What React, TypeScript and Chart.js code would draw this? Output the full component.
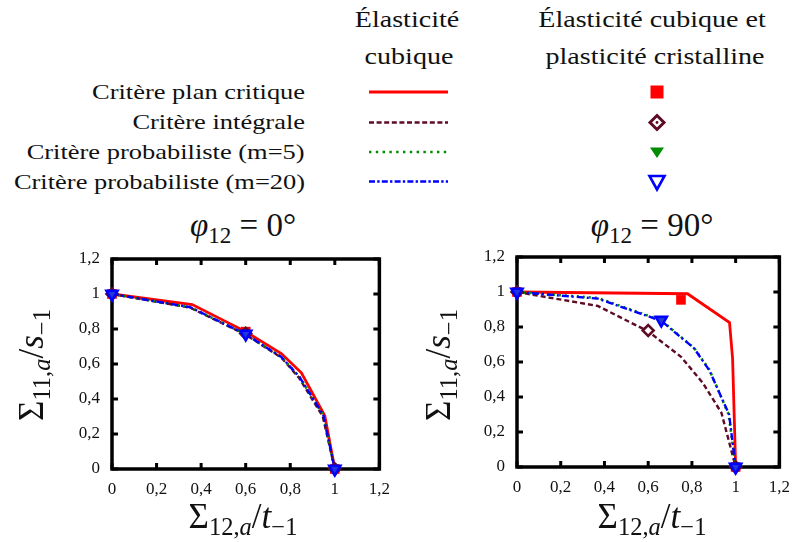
import React, { useEffect, useRef } from "react";
import { Chart, registerables } from "chart.js";

Chart.register(...registerables);

// ---------- data ----------
const axisTicks = [0, 0.2, 0.4, 0.6, 0.8, 1, 1.2];
const axisTickLabels = ["0", "0,2", "0,4", "0,6", "0,8", "1", "1,2"];

const seriesNames = [
  "Critère plan critique",
  "Critère intégrale",
  "Critère probabiliste (m=5)",
  "Critère probabiliste (m=20)",
];

// φ12 = 0° — cubic elasticity (lines)
const p0PlanX = [0, 0.36, 0.6, 0.76, 0.85, 0.955, 1];
const p0PlanY = [1, 0.94, 0.785, 0.66, 0.55, 0.305, 0];
const p0IntegX = [0, 0.35, 0.6, 0.76, 0.84, 0.946, 1];
const p0IntegY = [1, 0.922, 0.768, 0.636, 0.52, 0.3, 0];
const p0M5X = [0, 0.35, 0.6, 0.76, 0.842, 0.948, 1];
const p0M5Y = [1, 0.925, 0.77, 0.64, 0.525, 0.31, 0];
const p0M20X = [0, 0.35, 0.6, 0.76, 0.842, 0.948, 1];
const p0M20Y = [1, 0.925, 0.77, 0.64, 0.525, 0.31, 0];
// φ12 = 0° — cubic elasticity + crystal plasticity (markers)
const p0PlanMX = [0, 0.6, 1];
const p0PlanMY = [1, 0.785, 0];
const p0IntegMX = [0, 0.6, 1];
const p0IntegMY = [1, 0.775, 0];
const p0M5MX = [0, 0.6, 1];
const p0M5MY = [1, 0.772, 0];
const p0M20MX = [0, 0.6, 1];
const p0M20MY = [1, 0.772, 0];

// φ12 = 90° — cubic elasticity (lines)
const p90PlanX = [0, 0.78, 0.972, 0.986, 1];
const p90PlanY = [1, 0.99, 0.825, 0.62, 0];
const p90IntegX = [0, 0.37, 0.6, 0.75, 0.85, 0.935, 0.975, 1];
const p90IntegY = [1, 0.92, 0.775, 0.63, 0.48, 0.31, 0.12, 0];
const p90M5X = [0, 0.37, 0.66, 0.81, 0.88, 0.968, 1];
const p90M5Y = [1, 0.966, 0.838, 0.68, 0.556, 0.3, 0];
const p90M20X = [0, 0.37, 0.66, 0.81, 0.88, 0.97, 1];
const p90M20Y = [1, 0.962, 0.835, 0.678, 0.552, 0.3, 0];
// φ12 = 90° — markers
const p90PlanMX = [0, 0.75, 1];
const p90PlanMY = [1, 0.955, 0];
const p90IntegMX = [0, 0.6, 1];
const p90IntegMY = [1, 0.78, 0];
const p90M5MX = [0, 0.66, 1];
const p90M5MY = [1, 0.84, 0];
const p90M20MX = [0, 0.66, 1];
const p90M20MY = [1, 0.84, 0];

// ---------- styles ----------
const RED = "#ff0000";
const MAROON = "#5e0b24";
const GREEN = "#008c00";
const BLUE = "#0000ff";
const SERIF = "'Liberation Serif', 'Times New Roman', serif";

const pts = (xs: number[], ys: number[]) => xs.map((x, i) => ({ x, y: ys[i] }));

function buildDatasets(
  lines: [number[], number[]][],
  marks: [number[], number[]][]
) {
  const [plan, integ, m5, m20] = lines;
  const [planM, integM, m5M, m20M] = marks;
  const common = { showLine: false, clip: false as any };
  return [
    // markers (first datasets are drawn on top)
    {
      label: seriesNames[3] + " (cp)",
      data: pts(m20M[0], m20M[1]),
      ...common,
      pointStyle: "triangle",
      rotation: 180,
      pointRadius: 6.5,
      pointBackgroundColor: "rgba(40,40,255,0.85)",
      pointBorderColor: BLUE,
      pointBorderWidth: 2.5,
    },
    {
      label: seriesNames[2] + " (cp)",
      data: pts(m5M[0], m5M[1]),
      ...common,
      pointStyle: "triangle",
      rotation: 180,
      pointRadius: 6,
      pointBackgroundColor: GREEN,
      pointBorderColor: GREEN,
      pointBorderWidth: 1,
    },
    {
      label: seriesNames[1] + " (cp)",
      data: pts(integM[0], integM[1]),
      ...common,
      pointStyle: "rectRot",
      pointRadius: 5.5,
      pointBackgroundColor: "#ffffff",
      pointBorderColor: MAROON,
      pointBorderWidth: 2.5,
    },
    {
      label: seriesNames[0] + " (cp)",
      data: pts(planM[0], planM[1]),
      ...common,
      pointStyle: "rect",
      pointRadius: 6.8,
      pointBackgroundColor: RED,
      pointBorderColor: RED,
      pointBorderWidth: 0,
    },
    // lines
    {
      label: seriesNames[3],
      data: pts(m20[0], m20[1]),
      showLine: true,
      clip: false as any,
      borderColor: BLUE,
      borderWidth: 2.4,
      borderDash: [7, 3, 2, 3],
      pointRadius: 0,
    },
    {
      label: seriesNames[2],
      data: pts(m5[0], m5[1]),
      showLine: true,
      clip: false as any,
      borderColor: GREEN,
      borderWidth: 2.6,
      borderDash: [2, 4],
      pointRadius: 0,
    },
    {
      label: seriesNames[1],
      data: pts(integ[0], integ[1]),
      showLine: true,
      clip: false as any,
      borderColor: MAROON,
      borderWidth: 2.4,
      borderDash: [5, 3],
      pointRadius: 0,
    },
    {
      label: seriesNames[0],
      data: pts(plan[0], plan[1]),
      showLine: true,
      clip: false as any,
      borderColor: RED,
      borderWidth: 2.8,
      pointRadius: 0,
    },
  ];
}

const framePlugin = {
  id: "frameTicks",
  beforeDatasetsDraw(chart: any) {
    const { ctx, chartArea: a, scales } = chart;
    const L = 6;
    ctx.save();
    ctx.strokeStyle = "#000";
    ctx.lineWidth = 3;
    ctx.lineCap = "butt";
    for (const v of axisTicks) {
      const px = scales.x.getPixelForValue(v);
      ctx.beginPath();
      ctx.moveTo(px, a.bottom);
      ctx.lineTo(px, a.bottom - L);
      ctx.moveTo(px, a.top);
      ctx.lineTo(px, a.top + L);
      ctx.stroke();
      const py = scales.y.getPixelForValue(v);
      ctx.beginPath();
      ctx.moveTo(a.left, py);
      ctx.lineTo(a.left + L, py);
      ctx.moveTo(a.right, py);
      ctx.lineTo(a.right - L, py);
      ctx.stroke();
    }
    ctx.lineWidth = 3.5;
    ctx.strokeRect(a.left, a.top, a.right - a.left, a.bottom - a.top);
    ctx.restore();
  },
};

const tickLabel = (v: number) => {
  const i = axisTicks.findIndex((t) => Math.abs(t - v) < 1e-6);
  return i >= 0 ? axisTickLabels[i] : "";
};

function makeScale(axis: "x" | "y", fit: number, pad: number) {
  return {
    type: "linear",
    min: axisTicks[0],
    max: axisTicks[axisTicks.length - 1],
    afterBuildTicks: (s: any) => {
      s.ticks = axisTicks.map((v) => ({ value: v }));
    },
    ticks: {
      callback: (v: any) => tickLabel(Number(v)),
      font: { family: SERIF, size: 17 },
      color: "#111",
      padding: pad,
      maxRotation: 0,
      autoSkip: false,
    },
    grid: { display: false, drawTicks: false },
    border: { display: false },
    afterFit: (s: any) => {
      if (axis === "x") s.height = fit;
      else s.width = fit;
    },
  };
}

type PanelProps = {
  lines: [number[], number[]][];
  marks: [number[], number[]][];
  padTop: number;
  padRight: number;
  yWidth: number;
  xHeight: number;
  left: number;
};

function Panel(p: PanelProps) {
  const ref = useRef<HTMLCanvasElement | null>(null);
  useEffect(() => {
    if (!ref.current) return;
    const chart = new Chart(ref.current, {
      type: "scatter",
      data: { datasets: buildDatasets(p.lines, p.marks) as any },
      options: {
        animation: false,
        responsive: false,
        devicePixelRatio: 1,
        layout: { padding: { top: p.padTop, right: p.padRight, left: 0, bottom: 0 } },
        plugins: { legend: { display: false }, tooltip: { enabled: false }, title: { display: false } },
        scales: {
          x: makeScale("x", p.xHeight, 10) as any,
          y: makeScale("y", p.yWidth, 12) as any,
        },
      },
      plugins: [framePlugin],
    });
    return () => chart.destroy();
  }, []);
  return (
    <canvas
      ref={ref}
      width={400}
      height={342}
      style={{ position: "absolute", left: p.left, top: 200, width: 400, height: 342 }}
    />
  );
}

// ---------- text helpers ----------
const ASC = 0.8375; // baseline offset (em) for line-height 1 in Liberation Serif

function Txt(props: {
  x: number;
  y: number; // baseline
  size: number;
  align: "left" | "center" | "right";
  sx?: number;
  children: any;
}) {
  const { x, y, size, align, sx = 1, children } = props;
  const base: any = {
    position: "absolute",
    top: y - ASC * size,
    fontFamily: SERIF,
    fontSize: size,
    lineHeight: 1,
    whiteSpace: "nowrap",
    color: "#111",
  };
  if (align === "right") {
    base.right = 800 - x;
    base.transform = `scaleX(${sx})`;
    base.transformOrigin = "right center";
  } else if (align === "left") {
    base.left = x;
    base.transform = `scaleX(${sx})`;
    base.transformOrigin = "left center";
  } else {
    base.left = x;
    base.transform = `translateX(-50%) scaleX(${sx})`;
    base.transformOrigin = "center center";
  }
  return <div style={base}>{children}</div>;
}

const Sub = ({ children }: { children: any }) => (
  <span style={{ fontSize: "0.7em", position: "relative", top: "0.28em" }}>{children}</span>
);

const YTitle = () => (
  <span>
    Σ<Sub>11,<i>a</i></Sub>/<i>s</i><Sub>−1</Sub>
  </span>
);
const XTitle = () => (
  <span>
    Σ<Sub>12,<i>a</i></Sub>/<i>t</i><Sub>−1</Sub>
  </span>
);

function RotTitle({ bx, cy, size }: { bx: number; cy: number; size: number }) {
  return (
    <div style={{ position: "absolute", left: bx, top: cy, width: 0, height: 0, transform: "rotate(-90deg)", transformOrigin: "0 0" }}>
      <div
        style={{
          position: "absolute",
          left: 0,
          top: -ASC * size,
          transform: "translateX(-50%)",
          whiteSpace: "nowrap",
          fontFamily: SERIF,
          fontSize: size,
          lineHeight: 1,
          color: "#111",
        }}
      >
        <YTitle />
      </div>
    </div>
  );
}

function LegendKeys() {
  const ys = [92, 122.5, 152, 181.5];
  const x1 = 369;
  const x2 = 448;
  const mx = 657;
  return (
    <svg width={800} height={200} style={{ position: "absolute", left: 0, top: 0 }}>
      <line x1={x1} x2={x2} y1={ys[0]} y2={ys[0]} stroke={RED} strokeWidth={2.8} />
      <line x1={x1} x2={x2} y1={ys[1]} y2={ys[1]} stroke={MAROON} strokeWidth={2.6} strokeDasharray="5 2.6" />
      <line x1={x1} x2={x2} y1={ys[2]} y2={ys[2]} stroke={GREEN} strokeWidth={2.6} strokeDasharray="2.4 4.4" />
      <line x1={x1} x2={x2} y1={ys[3]} y2={ys[3]} stroke={BLUE} strokeWidth={2.6} strokeDasharray="6 2.2 2.4 2.2" />
      <rect x={mx - 6.5} y={ys[0] - 6.5} width={13} height={13} fill={RED} />
      <polygon
        points={`${mx},${ys[1] - 7} ${mx + 7},${ys[1]} ${mx},${ys[1] + 7} ${mx - 7},${ys[1]}`}
        fill="#fff"
        stroke={MAROON}
        strokeWidth={3}
      />
      <circle cx={mx} cy={ys[1]} r={1.4} fill={MAROON} />
      <polygon points={`${mx - 7},${ys[2] - 4.5} ${mx + 7},${ys[2] - 4.5} ${mx},${ys[2] + 6}`} fill={GREEN} />
      <polygon
        points={`${mx - 7.5},${ys[3] - 5.5} ${mx + 7.5},${ys[3] - 5.5} ${mx},${ys[3] + 8}`}
        fill="#fff"
        stroke={BLUE}
        strokeWidth={2.6}
      />
    </svg>
  );
}

export default function App() {
  const legendRowsBase = [100, 130, 160, 190];
  return (
    <div style={{ position: "absolute", left: 0, top: 0, width: 800, height: 542, background: "#fff", overflow: "hidden" }}>
      {/* header */}
      <Txt x={407} y={27} size={23} align="center" sx={1.22}>Élasticité</Txt>
      <Txt x={409} y={64} size={23} align="center" sx={1.22}>cubique</Txt>
      <Txt x={652} y={27} size={23} align="center" sx={1.22}>Élasticité cubique et</Txt>
      <Txt x={655} y={64} size={23} align="center" sx={1.22}>plasticité cristalline</Txt>
      {seriesNames.map((n, i) => (
        <Txt key={n} x={305} y={legendRowsBase[i]} size={21} align="right" sx={1.26}>
          {n}
        </Txt>
      ))}
      <LegendKeys />

      {/* panel titles */}
      <Txt x={243} y={237} size={33} align="center">
        <i>φ</i>
        <Sub>12</Sub> = 0°
      </Txt>
      <Txt x={652} y={237} size={33} align="center">
        <i>φ</i>
        <Sub>12</Sub> = 90°
      </Txt>

      <Panel
        left={0}
        lines={[[p0PlanX, p0PlanY], [p0IntegX, p0IntegY], [p0M5X, p0M5Y], [p0M20X, p0M20Y]]}
        marks={[[p0PlanMX, p0PlanMY], [p0IntegMX, p0IntegMY], [p0M5MX, p0M5MY], [p0M20MX, p0M20MY]]}
        padTop={59}
        padRight={20}
        yWidth={112}
        xHeight={73}
      />
      <Panel
        left={400}
        lines={[[p90PlanX, p90PlanY], [p90IntegX, p90IntegY], [p90M5X, p90M5Y], [p90M20X, p90M20Y]]}
        marks={[[p90PlanMX, p90PlanMY], [p90IntegMX, p90IntegMY], [p90M5MX, p90M5MY], [p90M20MX, p90M20MY]]}
        padTop={57}
        padRight={13}
        yWidth={117}
        xHeight={75}
      />

      {/* axis titles */}
      <RotTitle bx={43} cy={365} size={35} />
      <RotTitle bx={450} cy={365} size={35} />
      <Txt x={243} y={528} size={35} align="center">
        <XTitle />
      </Txt>
      <Txt x={652} y={528} size={35} align="center">
        <XTitle />
      </Txt>
    </div>
  );
}
